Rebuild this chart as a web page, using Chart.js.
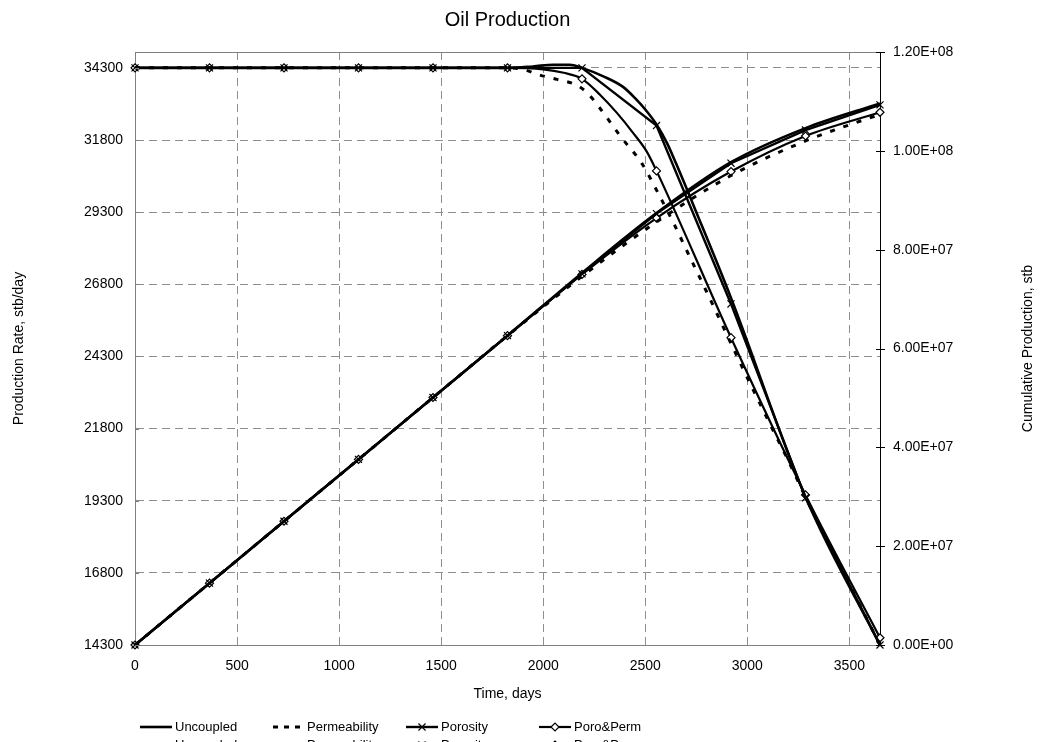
<!DOCTYPE html>
<html>
<head>
<meta charset="utf-8">
<script src="https://cdn.jsdelivr.net/npm/chart.js@4.4.1/dist/chart.umd.min.js"></script>
<style>
  html, body { margin: 0; padding: 0; background: #fff; }
  #wrap { width: 1041px; height: 742px; position: relative; }
</style>
</head>
<body>
<div id="wrap"><canvas id="c"></canvas></div>
<script>
// ---- text ----
const chartTitle = 'Oil Production';
const xTitle = 'Time, days';
const yTitle = 'Production Rate, stb/day';
const y2Title = 'Cumulative Production, stb';
const seriesNames = ['Uncoupled', 'Permeability', 'Porosity', 'Poro&Perm'];

// ---- axes ----
const xTicks = [0, 500, 1000, 1500, 2000, 2500, 3000, 3500];
const rateTicks = [14300, 16800, 19300, 21800, 24300, 26800, 29300, 31800, 34300];
const cumTicks = [0, 2e7, 4e7, 6e7, 8e7, 1e8, 1.2e8];
const cumTickLabels = ['0.00E+00', '2.00E+07', '4.00E+07', '6.00E+07', '8.00E+07', '1.00E+08', '1.20E+08'];

// ---- report times (one per year) ----
const yearDays = [0, 365, 730, 1095, 1460, 1825, 2190, 2555, 2920, 3285, 3650];

// ---- production rate, stb/day ----
const uncoupledRateDays = [0, 365, 730, 1095, 1460, 1825, 1950, 2050, 2130, 2190, 2300, 2391, 2450, 2508, 2555, 2606, 2650, 2750, 2920, 3285, 3650];
const uncoupledRate     = [34300, 34300, 34300, 34300, 34300, 34300, 34350, 34410, 34410, 34300, 33990, 33640, 33250, 32790, 32340, 31700, 31000, 29300, 26330, 19430, 14300];

const permRateDays = [0, 365, 730, 1095, 1460, 1825, 1900, 1984, 2068, 2165, 2220, 2278, 2376, 2484, 2560, 2640, 2720, 2800, 2880, 2960, 3040, 3120, 3200, 3285, 3650];
const permRate     = [34300, 34300, 34300, 34300, 34300, 34300, 34250, 34050, 33900, 33700, 33400, 32900, 31950, 30980, 30000, 28900, 27720, 26550, 25350, 24150, 22980, 21830, 20700, 19430, 14300];

const poroRate = [34300, 34300, 34300, 34300, 34300, 34300, 34300, 32300, 26120, 19400, 14300];

const poroPermRateDays = [0, 365, 730, 1095, 1460, 1825, 2000, 2100, 2190, 2278, 2361, 2440, 2508, 2555, 2920, 3285, 3650];
const poroPermRate     = [34300, 34300, 34300, 34300, 34300, 34300, 34250, 34130, 33920, 33370, 32740, 32050, 31390, 30730, 24950, 19500, 14550];

// ---- cumulative production, stb ----
const uncoupledCum = [0, 12.52e6, 25.04e6, 37.56e6, 50.08e6, 62.6e6, 75.3e6, 87.4e6, 97.7e6, 104.6e6, 109.6e6];
const permCum      = [0, 12.52e6, 25.04e6, 37.56e6, 50.08e6, 62.6e6, 74.6e6, 85.6e6, 95.0e6, 102.0e6, 107.4e6];
const poroCum      = [0, 12.52e6, 25.04e6, 37.56e6, 50.08e6, 62.6e6, 75.1e6, 87.3e6, 97.5e6, 104.2e6, 109.3e6];
const poroPermCum  = [0, 12.52e6, 25.04e6, 37.56e6, 50.08e6, 62.6e6, 75.0e6, 86.4e6, 95.8e6, 103.0e6, 107.8e6];

const FONT = '"Liberation Sans", Arial, Helvetica, sans-serif';
const GRID = '#8e8e8e';

const pts = (xs, ys) => xs.map((x, i) => ({ x: x, y: ys[i] }));
// markers only at the yearly report times
const yearMark = r => c => (c.raw && yearDays.indexOf(c.raw.x) < 0 ? 0 : r);

const styles = [
  { borderWidth: 2.6, borderDash: [], pointStyle: false, radius: 0, mode: 'monotone', tension: 0.4 },
  { borderWidth: 3, borderDash: [5, 9], pointStyle: false, radius: 0, mode: 'monotone', tension: 0.4 },
  { borderWidth: 2.4, borderDash: [], pointStyle: 'crossRot', radius: 5, mode: 'default', tension: 0 },
  { borderWidth: 2.2, borderDash: [], pointStyle: 'rectRot', radius: 4, mode: 'monotone', tension: 0.4 }
];

function makeSet(i, data, axis) {
  const s = styles[i];
  return {
    label: seriesNames[i],
    data: data,
    yAxisID: axis,
    borderColor: '#000',
    backgroundColor: '#fff',
    borderWidth: s.borderWidth,
    borderDash: s.borderDash,
    cubicInterpolationMode: s.mode,
    tension: s.tension,
    pointStyle: s.pointStyle || 'circle',
    pointRadius: s.pointStyle ? yearMark(s.radius) : 0,
    pointHoverRadius: 0,
    pointBorderColor: '#000',
    pointBackgroundColor: '#fff',
    pointBorderWidth: 1.2,
    clip: false,
    fill: false
  };
}

const datasets = [
  makeSet(0, pts(uncoupledRateDays, uncoupledRate), 'y'),
  makeSet(1, pts(permRateDays, permRate), 'y'),
  makeSet(2, pts(yearDays, poroRate), 'y'),
  makeSet(3, pts(poroPermRateDays, poroPermRate), 'y'),
  makeSet(0, pts(yearDays, uncoupledCum), 'y2'),
  makeSet(1, pts(yearDays, permCum), 'y2'),
  makeSet(2, pts(yearDays, poroCum), 'y2'),
  makeSet(3, pts(yearDays, poroPermCum), 'y2')
];

const fixedTicks = list => scale => { scale.ticks = list.map(v => ({ value: v })); };

// title, axis titles, frame, axis tick marks and the legend
const decor = {
  id: 'decor',
  afterDraw(chart) {
    const { ctx, chartArea: a, scales } = chart;
    ctx.save();
    ctx.lineWidth = 1;
    ctx.strokeStyle = '#808080';
    ctx.beginPath();
    ctx.moveTo(a.left, a.top + 0.5);
    ctx.lineTo(a.right, a.top + 0.5);
    ctx.stroke();

    ctx.strokeStyle = '#000';
    cumTicks.forEach(v => {
      const y = Math.round(scales.y2.getPixelForValue(v)) + 0.5;
      ctx.beginPath();
      ctx.moveTo(a.right - 4, y);
      ctx.lineTo(a.right + 5, y);
      ctx.stroke();
    });
    ctx.strokeStyle = '#808080';
    rateTicks.forEach(v => {
      const y = Math.round(scales.y.getPixelForValue(v)) + 0.5;
      ctx.beginPath();
      ctx.moveTo(a.left, y);
      ctx.lineTo(a.left + 4, y);
      ctx.stroke();
    });

    ctx.fillStyle = '#000';
    ctx.textAlign = 'center';
    ctx.textBaseline = 'middle';
    ctx.font = '20px ' + FONT;
    ctx.fillText(chartTitle, (a.left + a.right) / 2, 20);
    ctx.font = '14px ' + FONT;
    ctx.fillText(xTitle, (a.left + a.right) / 2, 694);
    ctx.save();
    ctx.translate(19, (a.top + a.bottom) / 2);
    ctx.rotate(-Math.PI / 2);
    ctx.fillText(yTitle, 0, 0);
    ctx.restore();
    ctx.save();
    ctx.translate(1028, (a.top + a.bottom) / 2);
    ctx.rotate(-Math.PI / 2);
    ctx.fillText(y2Title, 0, 0);
    ctx.restore();

    // legend: four columns, rate series then cumulative series
    const colLine = [140, 273, 406, 539];
    const colText = [175, 307, 441, 574];
    const rowY = [727, 745];
    ctx.font = '13px ' + FONT;
    ctx.textAlign = 'left';
    chart.data.datasets.forEach((ds, k) => {
      const col = k % 4, row = Math.floor(k / 4);
      const s = styles[col];
      const y = rowY[row];
      ctx.save();
      ctx.strokeStyle = '#000';
      ctx.lineWidth = s.borderWidth;
      ctx.setLineDash(col === 1 ? [5, 6] : []);
      ctx.beginPath();
      ctx.moveTo(colLine[col], y);
      ctx.lineTo(colLine[col] + 32, y);
      ctx.stroke();
      ctx.setLineDash([]);
      if (s.pointStyle) {
        ctx.lineWidth = 1.2;
        ctx.fillStyle = '#fff';
        Chart.helpers.drawPoint(ctx, { pointStyle: s.pointStyle, radius: s.radius, borderWidth: 1.2, rotation: 0 }, colLine[col] + 16, y);
      }
      ctx.fillStyle = '#000';
      ctx.fillText(ds.label, colText[col], y);
      ctx.restore();
    });
    ctx.restore();
  }
};

const plainTick = v => String(v);

new Chart(document.getElementById('c'), {
  type: 'line',
  data: { datasets: datasets },
  options: {
    responsive: true,
    maintainAspectRatio: false,
    animation: false,
    events: [],
    layout: { padding: { top: 52, left: 0, right: 0, bottom: 0 } },
    plugins: { legend: { display: false }, title: { display: false }, tooltip: { enabled: false } },
    scales: {
      x: {
        type: 'linear',
        min: 0,
        max: 3650,
        afterBuildTicks: fixedTicks(xTicks),
        afterFit: s => { s.height = 97; },
        grid: { color: GRID, lineWidth: 1, drawTicks: false },
        border: { display: true, color: '#808080', dash: [8, 5] },
        ticks: { color: '#000', font: { family: FONT, size: 14 }, padding: 13, maxRotation: 0, callback: plainTick }
      },
      y: {
        position: 'left',
        min: 14300,
        max: 34850,
        afterBuildTicks: fixedTicks(rateTicks),
        afterFit: s => { s.width = 135; },
        grid: { color: GRID, lineWidth: 1, drawTicks: false },
        border: { display: true, color: '#808080', dash: [8, 5] },
        ticks: { color: '#000', font: { family: FONT, size: 14 }, padding: 12, callback: plainTick }
      },
      y2: {
        position: 'right',
        min: 0,
        max: 1.2e8,
        afterBuildTicks: fixedTicks(cumTicks),
        afterFit: s => { s.width = 161; },
        grid: { drawOnChartArea: false, drawTicks: false },
        border: { display: true, color: '#000' },
        ticks: {
          color: '#000',
          font: { family: FONT, size: 14 },
          padding: 13,
          callback: (v, i) => cumTickLabels[i]
        }
      }
    }
  },
  plugins: [decor]
});
</script>
</body>
</html>
